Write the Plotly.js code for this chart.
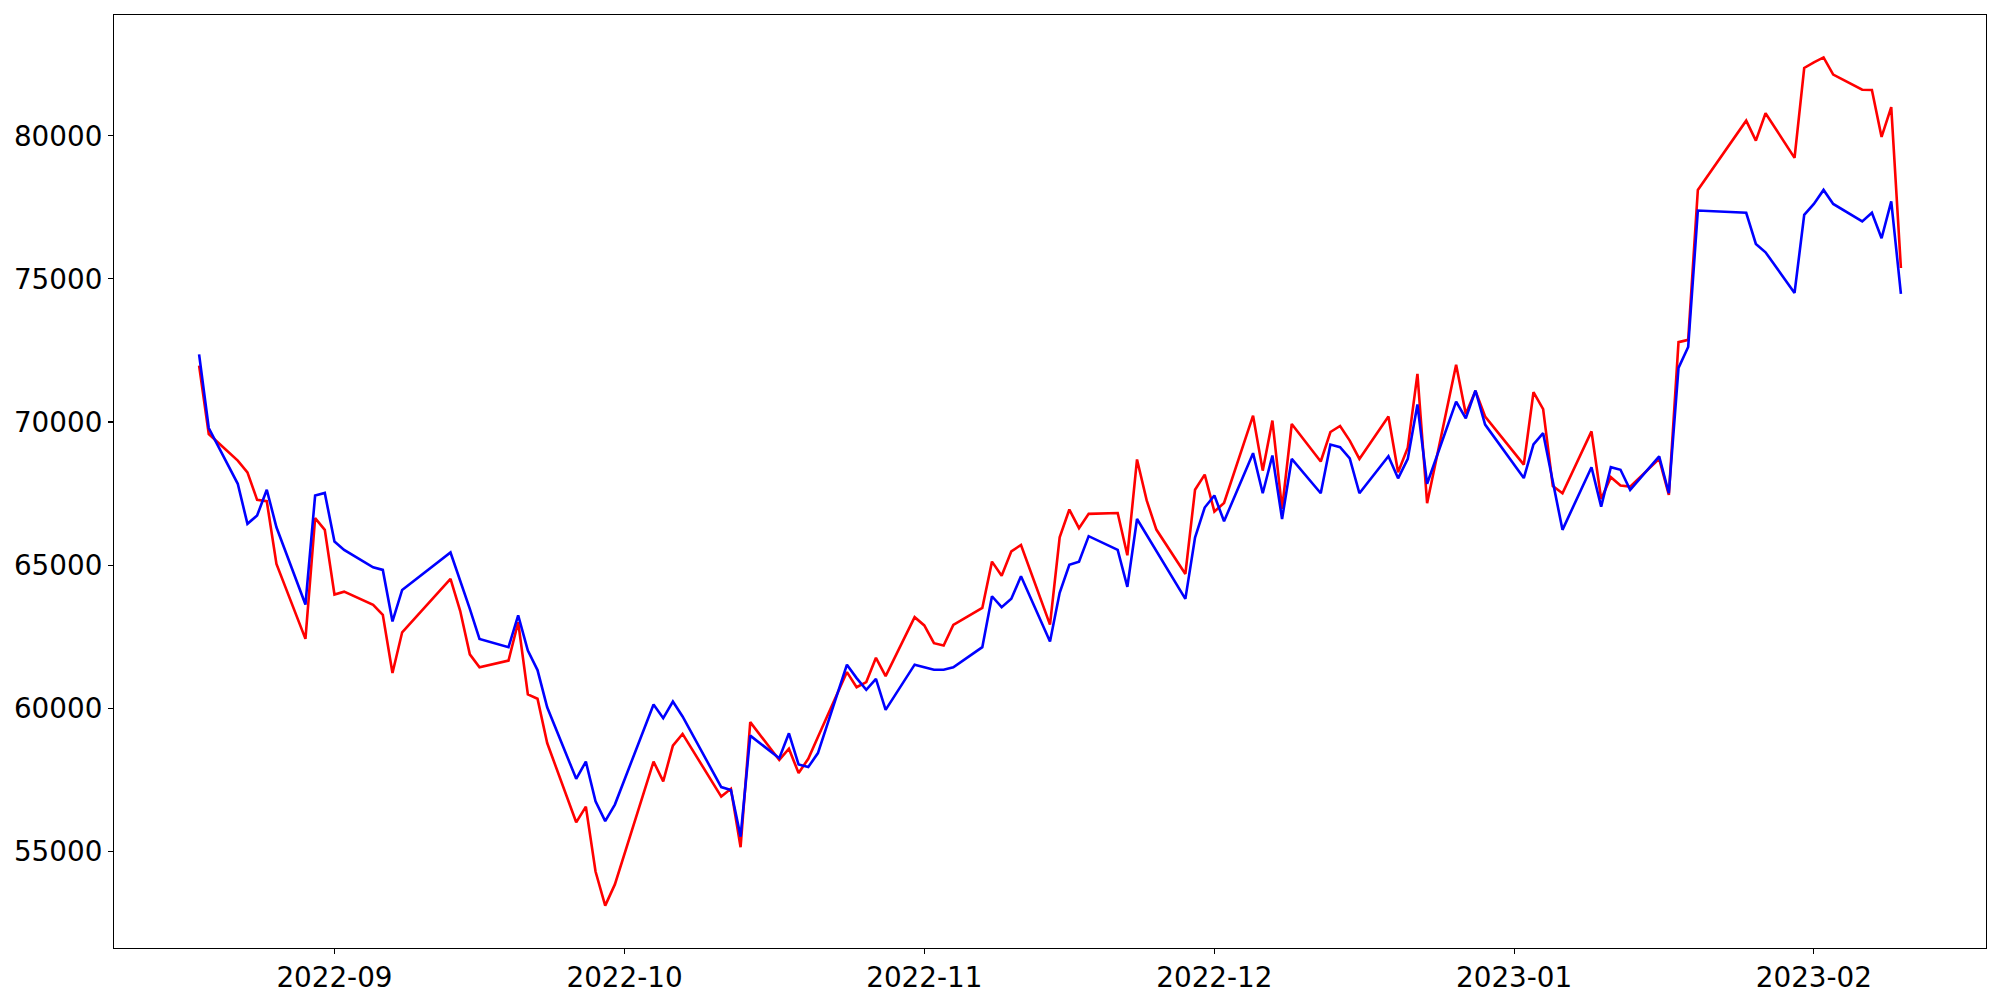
<!DOCTYPE html>
<html>
<head>
<meta charset="utf-8">
<script src="https://cdn.plot.ly/plotly-3.0.1.min.js"></script>
<style>
  html, body { margin: 0; padding: 0; background: #ffffff; }
  #chart { width: 2000px; height: 1000px; }
</style>
</head>
<body>
<div id="chart"></div>
<script>
// Trading dates
const dates = [
  "2022-08-18","2022-08-19","2022-08-22","2022-08-23","2022-08-24","2022-08-25","2022-08-26","2022-08-29","2022-08-30","2022-08-31",
  "2022-09-01","2022-09-02","2022-09-05","2022-09-06","2022-09-07","2022-09-08","2022-09-13","2022-09-14","2022-09-15","2022-09-16",
  "2022-09-19","2022-09-20","2022-09-21","2022-09-22","2022-09-23","2022-09-26","2022-09-27","2022-09-28","2022-09-29","2022-09-30",
  "2022-10-04","2022-10-05","2022-10-06","2022-10-07","2022-10-11","2022-10-12","2022-10-13","2022-10-14","2022-10-17","2022-10-18",
  "2022-10-19","2022-10-20","2022-10-21","2022-10-24","2022-10-25","2022-10-26","2022-10-27","2022-10-28","2022-10-31",
  "2022-11-01","2022-11-02","2022-11-03","2022-11-04","2022-11-07","2022-11-08","2022-11-09","2022-11-10","2022-11-11","2022-11-14",
  "2022-11-15","2022-11-16","2022-11-17","2022-11-18","2022-11-21","2022-11-22","2022-11-23","2022-11-24","2022-11-25","2022-11-28",
  "2022-11-29","2022-11-30",
  "2022-12-01","2022-12-02","2022-12-05","2022-12-06","2022-12-07","2022-12-08","2022-12-09","2022-12-12","2022-12-13","2022-12-14",
  "2022-12-15","2022-12-16","2022-12-19","2022-12-20","2022-12-21","2022-12-22","2022-12-23","2022-12-26","2022-12-27","2022-12-28",
  "2022-12-29",
  "2023-01-02","2023-01-03","2023-01-04","2023-01-05","2023-01-06","2023-01-09","2023-01-10","2023-01-11","2023-01-12","2023-01-13",
  "2023-01-16","2023-01-17","2023-01-18","2023-01-19","2023-01-20","2023-01-25","2023-01-26","2023-01-27","2023-01-30","2023-01-31",
  "2023-02-01","2023-02-02","2023-02-03","2023-02-06","2023-02-07","2023-02-08","2023-02-09","2023-02-10"
];

// Red series
const redValues = [
  71970,69580,68650,68240,67280,67230,65040,62420,66640,66230,
  63970,64070,63610,63260,61230,62650,64520,63400,61880,61430,
  61660,63000,60480,60330,58780,56010,56560,54290,53100,53840,
  58130,57440,58690,59100,56910,57180,55140,59510,58190,58580,
  57730,58230,58990,61260,60730,60910,61760,61120,63180,
  62890,62270,62190,62910,63500,65120,64630,65480,65700,62920,
  65970,66940,66290,66790,66820,65340,68690,67260,66240,64690,
  67630,68160,
  66870,67170,70220,68300,70050,66960,69930,68620,69650,69860,
  69350,68710,70190,68240,69100,71680,67160,72000,70280,71080,
  70190,
  68510,71040,70450,67760,67510,69670,67310,68070,67780,67740,
  68710,67450,72790,72870,78110,80530,79830,80790,79230,82370,
  82570,82740,82140,81610,81600,79960,81000,75380
];

// Blue series
const blueValues = [
  72360,69790,67840,66440,66730,67630,66320,63620,67430,67520,
  65820,65530,64920,64830,63030,64130,65440,64480,63470,62420,
  62130,63240,62010,61330,60030,57530,58130,56740,56050,56630,
  60130,59650,60230,59710,57240,57140,55510,59040,58250,59120,
  58030,57940,58430,61520,61050,60640,61020,59940,61520,
  61430,61340,61340,61430,62130,63910,63530,63820,64610,62330,
  64030,65010,65120,66010,65530,64240,66610,66060,65490,63820,
  65960,67010,
  67430,66530,68910,67510,68830,66610,68710,67510,69210,69120,
  68730,67510,68800,68030,68710,70610,67840,70710,70130,71100,
  69910,
  68040,69220,69610,67920,66230,68420,67040,68420,68330,67630,
  68800,67510,71890,72620,77390,77310,76220,75930,74510,77240,
  77620,78110,77620,77010,77310,76420,77710,74480
];

// Tick labels
const xTickVals = ["2022-09-01","2022-10-01","2022-11-01","2022-12-01","2023-01-01","2023-02-01"];
const xTickText = ["2022-09","2022-10","2022-11","2022-12","2023-01","2023-02"];
const yTickVals = [55000,60000,65000,70000,75000,80000];
const yTickText = ["55000","60000","65000","70000","75000","80000"];

// matplotlib-like 5% margins
const t0 = Date.parse(dates[0] + "T00:00:00Z");
const t1 = Date.parse(dates[dates.length - 1] + "T00:00:00Z");
const dt = (t1 - t0) * 0.05;
const fmt = t => new Date(t).toISOString().replace("T", " ").replace("Z", "");
const allV = redValues.concat(blueValues);
const vMin = Math.min(...allV), vMax = Math.max(...allV);
const dv = (vMax - vMin) * 0.05;

const FONT = { family: "DejaVu Sans, sans-serif", size: 27.8, color: "#000000" };

const traces = [
  { x: dates, y: redValues, type: "scatter", mode: "lines",
    line: { color: "#ff0000", width: 2.6 }, showlegend: false, hoverinfo: "skip" },
  { x: dates, y: blueValues, type: "scatter", mode: "lines",
    line: { color: "#0000ff", width: 2.6 }, showlegend: false, hoverinfo: "skip" }
];

const layout = {
  width: 2000, height: 1000,
  paper_bgcolor: "#ffffff", plot_bgcolor: "#ffffff",
  margin: { l: 114, r: 14, t: 15, b: 52, pad: 0 },
  font: FONT,
  showlegend: false,
  xaxis: {
    type: "date",
    range: [fmt(t0 - dt), fmt(t1 + dt)],
    tickmode: "array", tickvals: xTickVals, ticktext: xTickText,
    ticks: "outside", ticklen: 5, tickwidth: 1.1, tickcolor: "#000000",
    showline: true, linecolor: "#000000", linewidth: 1.1, mirror: true,
    showgrid: false, zeroline: false,
    tickfont: FONT
  },
  yaxis: {
    range: [vMin - dv, vMax + dv],
    tickmode: "array", tickvals: yTickVals, ticktext: yTickText,
    ticks: "outside", ticklen: 5, tickwidth: 1.1, tickcolor: "#000000",
    showline: true, linecolor: "#000000", linewidth: 1.1, mirror: true,
    showgrid: false, zeroline: false,
    tickfont: FONT
  }
};

Plotly.newPlot("chart", traces, layout, { staticPlot: true, displayModeBar: false });
</script>
</body>
</html>
